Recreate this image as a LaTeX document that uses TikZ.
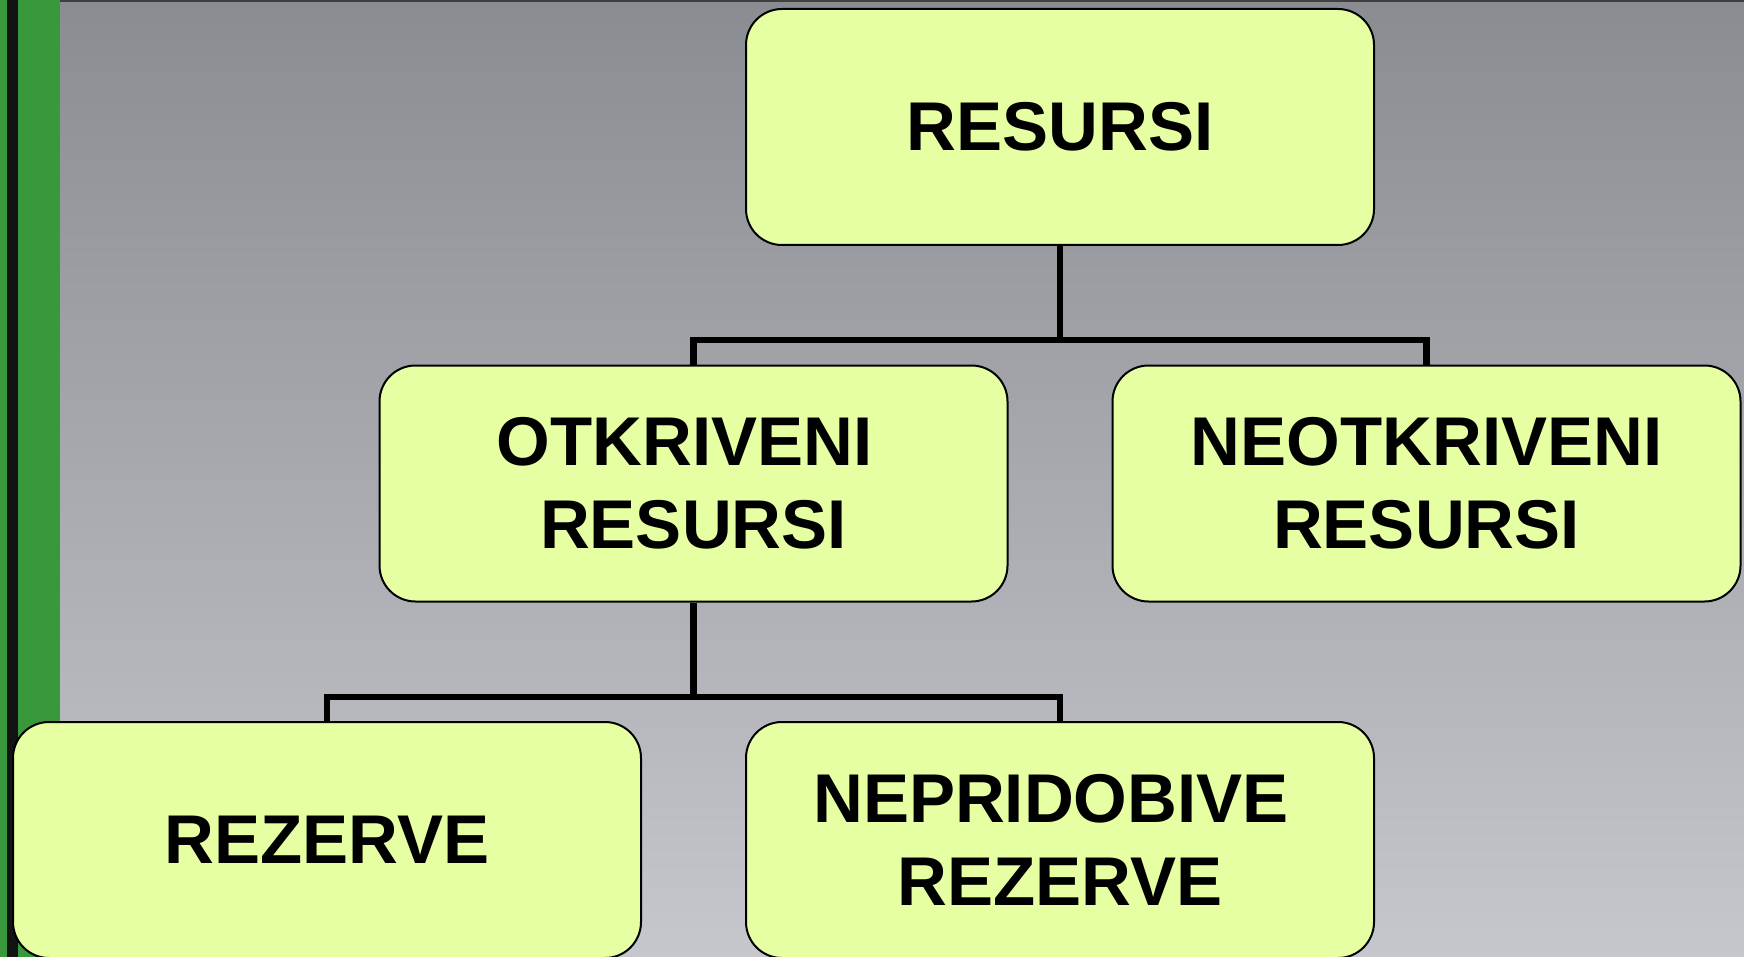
\documentclass[tikz,border=0pt]{standalone}
\usepackage{fontspec}
\setmainfont{Liberation Sans}
\definecolor{bgtop}{RGB}{137,140,145}
\definecolor{bgbot}{RGB}{198,199,204}
\definecolor{boxfill}{RGB}{230,255,163}
\definecolor{stripgreen}{RGB}{58,152,60}
\definecolor{stripblack}{RGB}{18,20,20}
\tikzset{
  resbox/.style={draw=black, line width=2pt, fill=boxfill, rounded corners=36pt,
    minimum width=628pt, minimum height=236pt, inner sep=0pt, align=center,
    font=\fontsize{69}{83}\selectfont\bfseries},
  conn/.style={draw=black, line width=6.5pt, line join=miter}
}
\begin{document}
\begin{tikzpicture}[x=1pt,y=-1pt]
\useasboundingbox (0,0) rectangle (1744,957);
\clip (0,0) rectangle (1744,957);
\shade[top color=bgtop, bottom color=bgbot] (0,0) rectangle (1744,957);
\fill[black!75] (0,0) rectangle (1744,2.5);
\fill[stripgreen] (0,0) rectangle (60,957);
\fill[stripblack] (7,0) rectangle (18,957);

\node[resbox] (r) at (1060,127) {\raisebox{-2pt}{RESURSI}};
\node[resbox] (o) at (693.5,483.5) {OTKRIVENI\hspace*{18pt}\\RESURSI};
\node[resbox] (n) at (1426.5,483.5) {NEOTKRIVENI\\RESURSI};
\node[resbox] (z) at (327,840) {REZERVE};
\node[resbox] (p) at (1060,840) {NEPRIDOBIVE\hspace*{18pt}\\REZERVE};

\coordinate (j1) at (1060,340);
\coordinate (j2) at (693.5,697);
\draw[conn] (r.south) -- (j1);
\draw[conn] (o.north) |- (j1) -| (n.north);
\draw[conn] (o.south) -- (j2);
\draw[conn] (z.north) |- (j2) -| (p.north);
\end{tikzpicture}
\end{document}
